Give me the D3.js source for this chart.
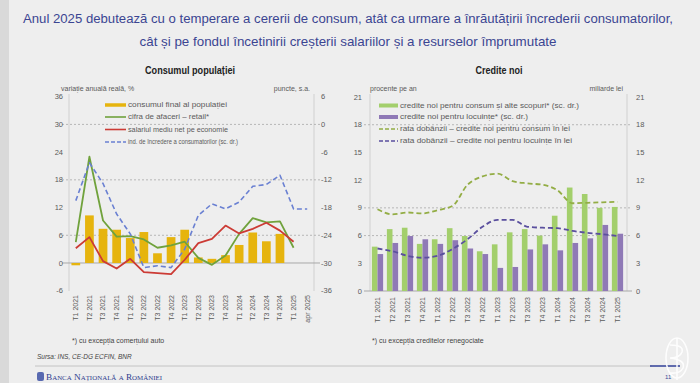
<!DOCTYPE html>
<html>
<head>
<meta charset="utf-8">
<script src="https://cdn.jsdelivr.net/npm/d3@7"></script>
<style>
  body { margin: 0; background: #eeeeee; }
  svg { display: block; font-family: "Liberation Sans", Arial, sans-serif; }
</style>
</head>
<body>
<svg id="chart" width="700" height="383"></svg>
<script>
// ---- data: Consumul populatiei ----
const catsL = ["T1 2021","T2 2021","T3 2021","T4 2021","T1 2022","T2 2022","T3 2022","T4 2022",
  "T1 2023","T2 2023","T3 2023","T4 2023","T1 2024","T2 2024","T3 2024","T4 2024","T1 2025","apr 2025"];
const consumFinal = [-0.5,10.3,7.4,7.2,5.4,6.7,2.1,5.6,7.2,1.2,0.9,1.7,3.9,6.6,4.7,6.3,null,null];
const cifraRetail = [4.5,23.0,9.2,5.7,5.8,5.1,3.3,3.8,4.6,1.1,-0.4,1.6,6.3,9.7,8.8,9.0,3.3,null];
const salariuNet = [3.2,5.6,0.4,-1.2,0.9,-2.0,-2.2,-2.4,0.7,4.3,5.2,8.1,6.4,7.4,8.7,7.0,4.6,null];
const incredere = [-16.5,-8.3,-12.8,-19.4,-23.7,-31.0,-30.6,-31.0,-27.0,-19.7,-17.2,-18.3,-16.8,-13.4,-13.0,-11.0,-18.3,-18.3];
const ticksLeftL = [-6,0,6,12,18,24,30,36];
const ticksRightL = [-36,-30,-24,-18,-12,-6,0,6];

// ---- data: Credite noi ----
const catsR = ["T1 2021","T2 2021","T3 2021","T4 2021","T1 2022","T2 2022","T3 2022","T4 2022",
  "T1 2023","T2 2023","T3 2023","T4 2023","T1 2024","T2 2024","T3 2024","T4 2024","T1 2025"];
const crediteConsum = [4.8,6.7,6.85,5.1,5.6,6.8,5.95,4.3,5.05,6.35,6.7,6.0,8.15,11.2,10.5,9.0,9.1];
const crediteLocuinte = [4.0,5.2,5.95,5.6,5.1,5.5,4.6,4.0,2.5,2.6,4.5,5.05,4.4,5.2,5.7,7.15,6.2];
const rataConsum = [8.85,8.3,8.5,8.4,8.75,9.2,11.5,12.4,12.7,11.9,11.65,11.5,10.9,9.5,9.55,9.6,9.65];
const rataLocuinte = [4.6,4.3,3.8,3.6,3.8,4.55,5.6,6.95,7.7,7.7,6.95,6.85,6.8,6.5,6.3,6.15,5.95];
const ticksR = [0,3,6,9,12,15,18,21];

const svg = d3.select("#chart");
const grey = "#5a5a5a";

// stretch/squeeze a text to a width
function fit(sel, w) {
  sel.attr("textLength", w).attr("lengthAdjust", "spacingAndGlyphs");
}

// background
svg.append("rect").attr("width", 700).attr("height", 383).attr("fill", "#eeeeee");
svg.append("rect").attr("width", 9).attr("height", 383).attr("fill", "#d9d9d9");

// title
const titleColor = "#3b4592";
fit(svg.append("text").attr("x", 348).attr("y", 23).attr("text-anchor", "middle")
  .attr("fill", titleColor).style("font-size", "12.5px")
  .text("Anul 2025 debutează cu o temperare a cererii de consum, atât ca urmare a înrăutățirii încrederii consumatorilor,"), 650);
fit(svg.append("text").attr("x", 348).attr("y", 46).attr("text-anchor", "middle")
  .attr("fill", titleColor).style("font-size", "13px")
  .text("cât și pe fondul încetinirii creșterii salariilor și a resurselor împrumutate"), 417);

// =================== LEFT CHART ===================
const gL = svg.append("g");
const xL = d3.scaleBand().domain(catsL).range([69, 314]).paddingInner(0.36).paddingOuter(0.18);
const yL = d3.scaleLinear().domain([-6, 36]).range([290.7, 96.7]);
const yL2 = d3.scaleLinear().domain([-36, 6]).range([290.7, 96.7]);
const cx = (sc, d) => sc(d) + sc.bandwidth() / 2;

fit(gL.append("text").attr("x", 190).attr("y", 74).attr("text-anchor", "middle")
  .style("font-size", "10px").style("font-weight", "bold").attr("fill", "#222")
  .text("Consumul populației"), 90);
gL.append("text").attr("x", 61).attr("y", 91).style("font-size", "7px").attr("fill", grey)
  .text("variație anuală reală, %");
gL.append("text").attr("x", 310).attr("y", 91).attr("text-anchor", "end").style("font-size", "7px").attr("fill", grey)
  .text("puncte, s.a.");

// frame + grid
gL.selectAll(".vl").data([69, 314]).join("line")
  .attr("x1", d => d).attr("x2", d => d).attr("y1", 94).attr("y2", 291)
  .attr("stroke", "#d0d0d0").attr("stroke-width", 1);
gL.selectAll(".grid").data([6, 18, 30]).join("line")
  .attr("x1", 62).attr("x2", 320).attr("y1", d => yL(d)).attr("y2", d => yL(d))
  .attr("stroke", "#aaaaaa").attr("stroke-width", 0.8).attr("stroke-dasharray", "2,2");
gL.append("line").attr("x1", 62).attr("x2", 320).attr("y1", yL(0)).attr("y2", yL(0))
  .attr("stroke", "#a8a8a8").attr("stroke-width", 1);

// axes labels
gL.selectAll(".tl").data(ticksLeftL).join("text")
  .attr("x", 63).attr("y", d => yL(d)).attr("dy", "0.35em").attr("text-anchor", "end")
  .style("font-size", "7.5px").attr("fill", grey).text(d => d);
gL.selectAll(".tr").data(ticksRightL).join("text")
  .attr("x", 321).attr("y", d => yL2(d)).attr("dy", "0.35em")
  .style("font-size", "7.5px").attr("fill", grey).text(d => d);
gL.selectAll(".xl").data(catsL).join("text")
  .attr("transform", d => `translate(${cx(xL, d)},295) rotate(-90)`)
  .attr("dy", "0.35em").attr("text-anchor", "end")
  .style("font-size", "7px").attr("fill", grey).text(d => d);

// bars
gL.selectAll(".bar").data(catsL.map((c, i) => ({c, v: consumFinal[i]})).filter(d => d.v !== null)).join("rect")
  .attr("x", d => xL(d.c)).attr("width", xL.bandwidth())
  .attr("y", d => Math.min(yL(d.v), yL(0))).attr("height", d => Math.abs(yL(d.v) - yL(0)))
  .attr("fill", "#e6b40e");

// lines
function drawLine(g, cats, xs, ys, vals, color, width, dash, curve) {
  const line = d3.line()
    .defined(d => d.v !== null)
    .x(d => cx(xs, d.c)).y(d => ys(d.v))
    .curve(curve || d3.curveLinear);
  g.append("path").datum(cats.map((c, i) => ({c, v: vals[i]})))
    .attr("d", line).attr("fill", "none").attr("stroke", color)
    .attr("stroke-width", width).attr("stroke-dasharray", dash || null)
    .attr("stroke-linejoin", "round");
}
drawLine(gL, catsL, xL, yL, cifraRetail, "#70a23c", 1.8);
drawLine(gL, catsL, xL, yL, salariuNet, "#cc3b35", 1.8);
drawLine(gL, catsL, xL, yL2, incredere, "#6a80d2", 1.6, "5,3");

// legend
const legL = [
  {t: "consumul final al populației", c: "#e6b40e", type: "bar", w: 99},
  {t: "cifra de afaceri – retail*", c: "#70a23c", type: "line", w: 81},
  {t: "salariul mediu net pe economie", c: "#cc3b35", type: "line", w: 100},
  {t: "ind. de încredere a consumatorilor (sc. dr.)", c: "#6a80d2", type: "dash", w: 110}
];
const legRowsL = [105, 117, 129.5, 142];
legL.forEach((d, i) => {
  const y = legRowsL[i];
  gL.append("line").attr("x1", 105).attr("x2", 126).attr("y1", y).attr("y2", y)
    .attr("stroke", d.c).attr("stroke-width", d.type === "bar" ? 3.5 : 1.6)
    .attr("stroke-dasharray", d.type === "dash" ? "4,2" : null);
  fit(gL.append("text").attr("x", 128).attr("y", y).attr("dy", "0.35em")
    .style("font-size", "6.5px").attr("fill", grey).text(d.t), d.w);
});

// =================== RIGHT CHART ===================
const gR = svg.append("g");
const xR = d3.scaleBand().domain(catsR).range([370, 625]).paddingInner(0.25).paddingOuter(0.125);
const xSub = d3.scaleBand().domain(["consum", "locuinte"]).range([0, xR.bandwidth()]);
const yR = d3.scaleLinear().domain([0, 21]).range([291, 97]);

fit(gR.append("text").attr("x", 499).attr("y", 74).attr("text-anchor", "middle")
  .style("font-size", "10px").style("font-weight", "bold").attr("fill", "#222")
  .text("Credite noi"), 47);
gR.append("text").attr("x", 370).attr("y", 91).style("font-size", "7px").attr("fill", grey)
  .text("procente pe an");
gR.append("text").attr("x", 623).attr("y", 91).attr("text-anchor", "end").style("font-size", "7px").attr("fill", grey)
  .text("miliarde lei");

gR.selectAll(".vl").data([370, 627]).join("line")
  .attr("x1", d => d).attr("x2", d => d).attr("y1", 94).attr("y2", 291)
  .attr("stroke", "#d0d0d0").attr("stroke-width", 1);
gR.selectAll(".grid").data([6, 9, 18]).join("line")
  .attr("x1", 364).attr("x2", 632).attr("y1", d => yR(d)).attr("y2", d => yR(d))
  .attr("stroke", "#aaaaaa").attr("stroke-width", 0.8).attr("stroke-dasharray", "2,2");
gR.append("line").attr("x1", 364).attr("x2", 632).attr("y1", yR(0)).attr("y2", yR(0))
  .attr("stroke", "#a8a8a8").attr("stroke-width", 1);

gR.selectAll(".tl").data(ticksR).join("text")
  .attr("x", 362).attr("y", d => yR(d)).attr("dy", "0.35em").attr("text-anchor", "end")
  .style("font-size", "7.5px").attr("fill", grey).text(d => d);
gR.selectAll(".tr").data(ticksR).join("text")
  .attr("x", 636).attr("y", d => yR(d)).attr("dy", "0.35em")
  .style("font-size", "7.5px").attr("fill", grey).text(d => d);
gR.selectAll(".xl").data(catsR).join("text")
  .attr("transform", d => `translate(${cx(xR, d)},297) rotate(-90)`)
  .attr("dy", "0.35em").attr("text-anchor", "end")
  .style("font-size", "7px").attr("fill", grey).text(d => d);

// grouped bars
const groups = catsR.map((c, i) => ({c, consum: crediteConsum[i], locuinte: crediteLocuinte[i]}));
const barColors = {consum: "#a3cf6c", locuinte: "#8f79b6"};
gR.selectAll(".grp").data(groups).join("g")
  .attr("transform", d => `translate(${xR(d.c)},0)`)
  .selectAll("rect").data(d => ["consum", "locuinte"].map(k => ({k, v: d[k]}))).join("rect")
  .attr("x", d => xSub(d.k)).attr("width", xSub.bandwidth())
  .attr("y", d => yR(d.v)).attr("height", d => yR(0) - yR(d.v))
  .attr("fill", d => barColors[d.k]);

drawLine(gR, catsR, xR, yR, rataConsum, "#93ad45", 1.8, "5,3", d3.curveMonotoneX);
drawLine(gR, catsR, xR, yR, rataLocuinte, "#5a4f9e", 1.8, "5,3", d3.curveMonotoneX);

const legR = [
  {t: "credite noi pentru consum și alte scopuri* (sc. dr.)", c: "#a3cf6c", type: "bar", w: 179},
  {t: "credite noi pentru locuințe* (sc. dr.)", c: "#8f79b6", type: "bar", w: 128},
  {t: "rata dobânzii – credite noi pentru consum în lei", c: "#93ad45", type: "dash", w: 170},
  {t: "rata dobânzii – credite noi pentru locuințe în lei", c: "#5a4f9e", type: "dash", w: 172}
];
const legRowsR = [105.5, 117, 129, 141];
legR.forEach((d, i) => {
  const y = legRowsR[i];
  gR.append("line").attr("x1", 379).attr("x2", 398).attr("y1", y).attr("y2", y)
    .attr("stroke", d.c).attr("stroke-width", d.type === "bar" ? 4 : 1.6)
    .attr("stroke-dasharray", d.type === "dash" ? "4,2" : null);
  fit(gR.append("text").attr("x", 400).attr("y", y).attr("dy", "0.35em")
    .style("font-size", "7px").attr("fill", grey).text(d.t), d.w);
});

// =================== FOOTER ===================
svg.append("text").attr("x", 72).attr("y", 343).style("font-size", "7px").attr("fill", "#444")
  .text("*) cu excepția comerțului auto");
svg.append("text").attr("x", 372).attr("y", 343).style("font-size", "7px").attr("fill", "#444")
  .text("*) cu excepția creditelor renegociate");
svg.append("text").attr("x", 37).attr("y", 359).style("font-size", "6.5px").style("font-style", "italic")
  .attr("fill", "#444").text("Sursa: INS, CE-DG ECFIN, BNR");
svg.append("line").attr("x1", 35).attr("x2", 652).attr("y1", 366).attr("y2", 366)
  .attr("stroke", "#b8b8b8").attr("stroke-width", 0.8);
svg.append("line").attr("x1", 650).attr("x2", 680).attr("y1", 366).attr("y2", 366)
  .attr("stroke", "#3b4a9c").attr("stroke-width", 1.6);
svg.append("rect").attr("x", 37).attr("y", 372).attr("width", 7).attr("height", 9)
  .attr("rx", 2).attr("fill", "#5869b0");
fit(svg.append("text").attr("x", 46).attr("y", 380)
  .style("font-family", "'Liberation Serif', serif").style("font-size", "8px")
  .style("font-variant", "small-caps").attr("fill", "#2f3e8f")
  .text("Banca Națională a României"), 116);
svg.append("text").attr("x", 665).attr("y", 379).style("font-size", "6px").attr("fill", "#3b4a9c").text("11");

// faint monogram on the bottom right
const mono = svg.append("g").attr("fill", "none").attr("stroke", "#ffffff").attr("stroke-width", 1.6).attr("opacity", 0.9);
mono.append("ellipse").attr("cx", 677).attr("cy", 358).attr("rx", 11).attr("ry", 20);
mono.append("line").attr("x1", 677).attr("x2", 677).attr("y1", 338).attr("y2", 380);
mono.append("path").attr("d", "M670,345 Q684,345 682,352 Q680,358 670,358 Q686,360 683,368 Q680,374 670,373");
</script>
</body>
</html>
